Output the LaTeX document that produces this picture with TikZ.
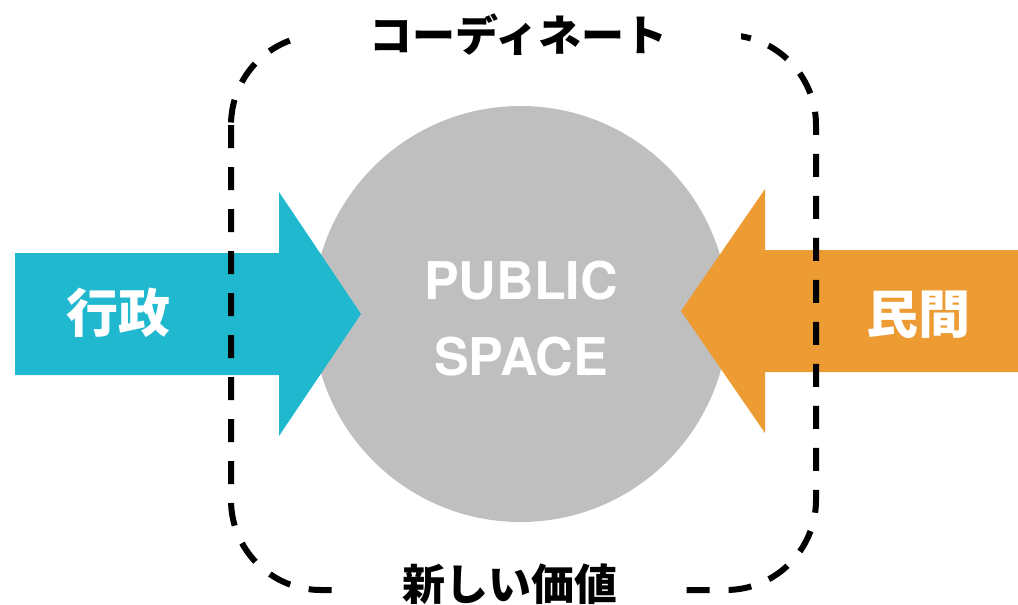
\documentclass[tikz,border=0pt]{standalone}
\usepackage{fontspec}
\newfontfamily\jp{Noto Sans CJK JP}
\newfontfamily\heros{TeX Gyre Heros}
\definecolor{cyanA}{HTML}{1FB8CE}
\definecolor{orangeA}{HTML}{ED9C33}
\definecolor{grayC}{HTML}{BFBFBF}
\tikzset{
  frame/.style={draw=black, line width=6pt, dash pattern=on 23pt off 19pt, rounded corners=90pt},
  sidelabel/.style={text=white, inner sep=0pt, font=\jp\bfseries\fontsize{52}{60}\selectfont},
  framelabel/.style={fill=white, text=black, inner ysep=2pt, font=\jp\bfseries\fontsize{43}{50}\selectfont},
  centerlabel/.style={text=white, inner sep=0pt, align=center, font=\heros\bfseries\fontsize{52}{76}\selectfont}
}
\begin{document}
\begin{tikzpicture}[x=1pt, y=-1pt]
\useasboundingbox (0,0) rectangle (1018,605);
% circle
\fill[grayC] (520.5,314) circle (208);
% left arrow
\fill[cyanA] (15,253) -- (279,253) -- (279,192) -- (361,314) -- (279,436) -- (279,375) -- (15,375) -- cycle;
% right arrow
\fill[orangeA] (1018,250) -- (765,250) -- (765,189) -- (681,311) -- (765,433) -- (765,372) -- (1018,372) -- cycle;
% dashed frame
\draw[frame] (231,35) rectangle (816,590);
% labels
\node[framelabel, minimum width=446pt] (coord) at (518,35) {コーディネート};
\node[framelabel, minimum width=322pt] (value) at (510,584) {新しい価値};
\node[sidelabel] (gov) at (118,313) {行政};
\node[sidelabel] (priv) at (918,315) {民間};
\node[centerlabel] (ps) at (521,319) {PUBLIC\\SPACE};
\end{tikzpicture}
\end{document}
